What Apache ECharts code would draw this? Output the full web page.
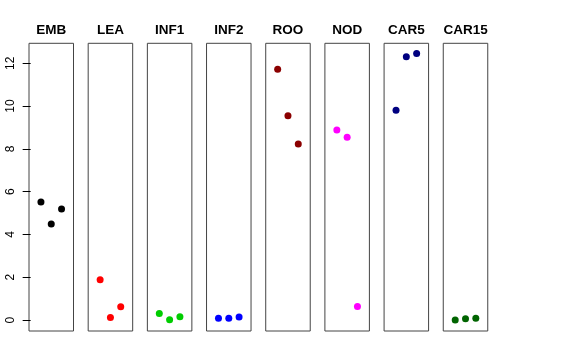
<!DOCTYPE html>
<html>
<head>
<meta charset="utf-8">
<script src="https://cdn.jsdelivr.net/npm/echarts@6/dist/echarts.min.js"></script>
<style>html,body{margin:0;padding:0;background:#fff}#c{width:576px;height:360px}</style>
</head>
<body>
<div id="c"></div>
<script>
const categories = ['EMB', 'LEA', 'INF1', 'INF2', 'ROO', 'NOD', 'CAR5', 'CAR15'];
const EMB = [5.52, 4.49, 5.19];
const LEA = [1.89, 0.12, 0.62];
const INF1 = [0.31, 0.02, 0.16];
const INF2 = [0.08, 0.08, 0.14];
const ROO = [11.72, 9.54, 8.23];
const NOD = [8.88, 8.54, 0.64];
const CAR5 = [9.80, 12.30, 12.45];
const CAR15 = [0.00, 0.06, 0.08];
const seriesValues = [EMB, LEA, INF1, INF2, ROO, NOD, CAR5, CAR15];
const colors = ['#000000', '#FF0000', '#00CD00', '#0000FF', '#8B0000', '#FF00FF', '#000080', '#006400'];
const yTicks = [0, 2, 4, 6, 8, 10, 12];

const grids = [], xAxes = [], yAxes = [], series = [], graphics = [];
const panelStep = 59.18, panelW = 44.5, panelTop = 43.3, panelH = 287.7;
categories.forEach((name, i) => {
  const panelLeft = 29 + i * panelStep;
  grids.push({left: panelLeft, top: panelTop, width: panelW, height: panelH, show: true,
    borderColor: '#444', borderWidth: 1, backgroundColor: 'transparent'});
  xAxes.push({type: 'value', gridIndex: i, min: -0.16, max: 4.16, show: false});
  yAxes.push({type: 'value', gridIndex: i, min: -0.51, max: 12.93,
    show: i === 0,
    splitLine: {show: false},
    axisLine: {show: false},
    axisTick: {show: i === 0, length: 8, lineStyle: {color: '#000'}, customValues: yTicks},
    axisLabel: {show: i === 0, rotate: 90, margin: 12, color: '#000', fontSize: 12,
      fontFamily: 'Liberation Sans, Arial, sans-serif', customValues: yTicks}
  });
  series.push({type: 'scatter', xAxisIndex: i, yAxisIndex: i, symbolSize: 7,
    itemStyle: {color: colors[i], opacity: 1},
    data: seriesValues[i].map((v, j) => [j + 1, v]), silent: true, animation: false});
  graphics.push({type: 'text', x: panelLeft + panelW / 2, y: 30,
    style: {text: name, textAlign: 'center', textVerticalAlign: 'middle',
      font: 'bold 13.5px "Liberation Sans", Arial, sans-serif', fill: '#000'}});
});

const chart = echarts.init(document.getElementById('c'), null, {renderer: 'canvas'});
chart.setOption({
  animation: false,
  grid: grids, xAxis: xAxes, yAxis: yAxes, series: series, graphic: graphics
});
</script>
</body>
</html>
